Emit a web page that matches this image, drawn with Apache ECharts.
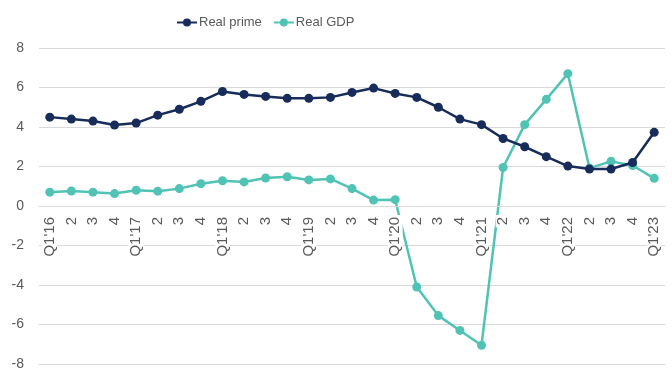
<!DOCTYPE html>
<html>
<head>
<meta charset="utf-8">
<script src="https://cdn.jsdelivr.net/npm/echarts@6/dist/echarts.min.js"></script>
<style>
  html, body { margin: 0; padding: 0; background: #fff; }
  #main { width: 672px; height: 370px; }
</style>
</head>
<body>
<div id="main"></div>
<script>
// quarters, Q1'16 .. Q1'23
var quarters = ["Q1'16", '2', '3', '4', "Q1'17", '2', '3', '4', "Q1'18", '2', '3', '4',
    "Q1'19", '2', '3', '4', "Q1'20", '2', '3', '4', "Q1'21", '2', '3', '4',
    "Q1'22", '2', '3', '4', "Q1'23"];

var realPrime = [4.5, 4.4, 4.3, 4.1, 4.2, 4.6, 4.9, 5.3, 5.8, 5.65, 5.55, 5.45,
    5.45, 5.5, 5.75, 5.97, 5.7, 5.5, 5.0, 4.4, 4.12, 3.42, 3.0, 2.5,
    2.02, 1.87, 1.87, 2.2, 3.73];

var realGdp = [0.7, 0.76, 0.7, 0.63, 0.8, 0.75, 0.88, 1.13, 1.28, 1.22, 1.42, 1.48,
    1.32, 1.37, 0.88, 0.3, 0.32, -4.1, -5.55, -6.3, -7.05, 1.95, 4.12, 5.4,
    6.7, 1.92, 2.26, 2.05, 1.4];

var textColor = '#595959';
var font = 'Liberation Sans';

var gridTop = 48, gridBottom = 6, chartH = 370;
// x axis sits at value 0, the middle of the -8..8 range
var zeroOffset = -(chartH - gridTop - gridBottom) / 2;

var chart = echarts.init(document.getElementById('main'));

chart.setOption({
    animation: false,
    legend: {
        top: 11,
        left: 171,
        itemWidth: 20,
        itemHeight: 10,
        itemGap: 11,
        textStyle: { color: textColor, fontSize: 13, fontFamily: font, padding: [0, 0, 0, -3] },
        data: ['Real prime', 'Real GDP']
    },
    grid: { left: 39, right: 7, top: gridTop, bottom: gridBottom, containLabel: false, outerBoundsMode: 'none' },
    xAxis: {
        type: 'category',
        data: quarters,
        position: 'bottom',
        offset: zeroOffset,
        z: 10, // labels sit over the lines, like the original
        axisTick: { show: false },
        axisLine: { show: true, onZero: false, lineStyle: { color: '#d9d9d9', width: 1 } },
        axisLabel: {
            rotate: 90,
            interval: 0,
            margin: 9,
            color: textColor,
            fontSize: 15,
            fontFamily: font,
            backgroundColor: '#fff',
            padding: [0, 2, 0, 2]
        }
    },
    yAxis: {
        type: 'value',
        min: -8,
        max: 8,
        interval: 2,
        axisLabel: { color: textColor, fontSize: 14, fontFamily: font, margin: 15 },
        splitLine: { lineStyle: { color: '#d9d9d9', width: 1 } }
    },
    series: [
        {
            name: 'Real prime',
            type: 'line',
            data: realPrime,
            symbol: 'circle',
            symbolSize: 9,
            z: 3,
            itemStyle: { color: '#172c5a' },
            lineStyle: { color: '#172c5a', width: 2.5 }
        },
        {
            name: 'Real GDP',
            type: 'line',
            data: realGdp,
            symbol: 'circle',
            symbolSize: 9,
            z: 2,
            itemStyle: { color: '#50c3b5' },
            lineStyle: { color: '#50c3b5', width: 2.5 }
        }
    ]
});
</script>
</body>
</html>
